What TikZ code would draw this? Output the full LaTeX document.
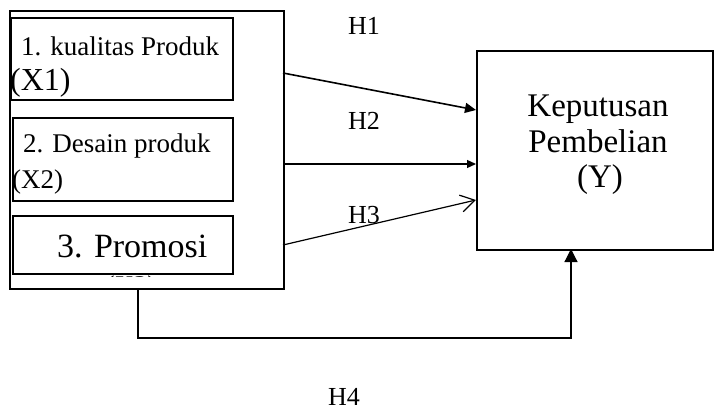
\documentclass[tikz,border=0pt]{standalone}
\usepackage{fontspec}
\setmainfont{Liberation Serif}
\usetikzlibrary{arrows.meta}
\begin{document}
\begin{tikzpicture}[x=1pt,y=-1pt,
  box/.style={draw, line width=1.6pt, inner sep=0pt, anchor=north west},
  outerbox/.style={draw, line width=2.4pt, inner sep=0pt, anchor=north west},
  txt/.style={inner sep=0pt, anchor=base west},
  ctxt/.style={inner sep=0pt, anchor=base},
  conn/.style={line width=1.2pt},
  hlabel/.style={inner sep=0pt, anchor=base west, font=\fontsize{26}{30}\selectfont}]
\useasboundingbox (0,0) rectangle (716,412);
% outer and inner boxes
\node[outerbox, minimum width=274pt, minimum height=278pt] (outer) at (9,10) {};
\node[box, minimum width=222pt, minimum height=82pt] (x1) at (10,17) {};
\node[box, minimum width=220pt, minimum height=83pt] (x2) at (12,117) {};
\node[box, minimum width=220pt, minimum height=58pt] (x3) at (12,215) {};
\node[box, minimum width=236pt, minimum height=199pt] (y) at (476,50) {};
% texts
\node[txt, font=\fontsize{27}{30}\selectfont] (t1) at (21,56) {1. kualitas Produk};
\node[txt, font=\fontsize{32}{36}\selectfont] (t1b) at (10,91) {(X1)};
\node[txt, font=\fontsize{27}{30}\selectfont] (t2) at (23,153) {2. Desain produk};
\node[txt, font=\fontsize{27}{30}\selectfont] (t2b) at (12,189) {(X2)};
\node[txt, font=\fontsize{34}{38}\selectfont] (t3) at (57,257) {3. Promosi};
\begin{scope}
  \clip (12,215) rectangle (232,276);
  \node[ctxt, font=\fontsize{27}{30}\selectfont] (t3b) at (131,294) {(X3)};
\end{scope}
\node[ctxt, font=\fontsize{33}{36}\selectfont] (ty1) at (598,117) {Keputusan};
\node[ctxt, font=\fontsize{33}{36}\selectfont] (ty2) at (598,153) {Pembelian};
\node[ctxt, font=\fontsize{33}{36}\selectfont] (ty3) at (600,187) {(Y)};
% labels
\node[hlabel] (h1) at (348,35) {H1};
\node[hlabel] (h2) at (348,129) {H2};
\node[hlabel] (h3) at (348,223) {H3};
\node[hlabel] (h4) at (328,405) {H4};
% connector ends
\coordinate (s1) at (283,73);
\coordinate (e1) at (476,110);
\coordinate (s2) at (283,164);
\coordinate (e2) at (476,164);
\coordinate (s3) at (283,245);
\coordinate (e3) at (476,200);
\coordinate (s4) at (138,288);
\coordinate (c4a) at (138,338);
\coordinate (c4b) at (571,338);
\coordinate (e4) at (571,249);
% connectors
\draw[conn, line width=1.6pt, -{Triangle[length=11pt,width=10pt]}] (s1) -- (e1);
\draw[conn, -{Triangle[length=9pt,width=8pt]}] (s2) -- (e2);
\draw[conn, -{Straight Barb[length=14pt,width=17pt]}] (s3) -- (e3);
\draw[conn, -{Triangle[length=13pt,width=13pt]}] (s4) -- (c4a) -- (c4b) -- (e4);
\end{tikzpicture}
\end{document}
